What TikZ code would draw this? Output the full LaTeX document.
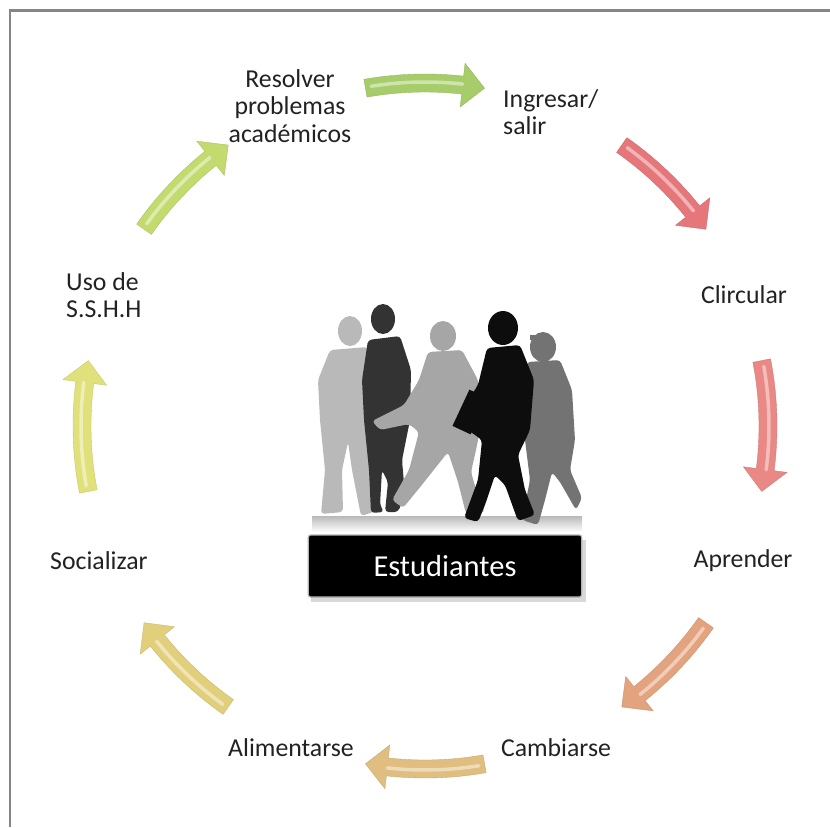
\documentclass[tikz,border=0pt]{standalone}
\usepackage{fontspec}
\setmainfont{Carlito}
\usepackage{tikz}
\usepackage{xcolor}
\definecolor{labeltext}{HTML}{222222}
\definecolor{framegray}{HTML}{858585}
\definecolor{arrA}{RGB}{166,205,106}
\definecolor{arrB}{RGB}{229,118,122}
\definecolor{arrC}{RGB}{233,136,132}
\definecolor{arrD}{RGB}{226,163,126}
\definecolor{arrE}{RGB}{223,190,128}
\definecolor{arrF}{RGB}{226,207,124}
\definecolor{arrG}{RGB}{224,225,122}
\definecolor{arrH}{RGB}{194,218,110}

\tikzset{
  lbl/.style={text=labeltext, font=\fontsize{22}{23.5}\selectfont, inner sep=0pt},
  caption/.style={shape=rectangle, fill=black, draw=gray!60, line width=1pt,
    rounded corners=2pt, minimum width=8.2cm, minimum height=1.86cm,
    text=white, font=\fontsize{26}{28}\selectfont}
}

% curved block arrow on the ring: #1 start angle, #2 tip angle, #3 colour
\newcommand{\ringarrow}[3]{%
  \pgfmathsetmacro{\hb}{#2-3.7}%
  \pgfmathsetmacro{\sa}{#1+1}%
  \fill[#3, draw=#3!88!black, line width=0.3pt]
    ([shift={(ctr)}]#1:352) arc[start angle=#1, end angle=\hb, radius=352]
    -- ([shift={(ctr)}]\hb:365) -- ([shift={(ctr)}]#2:343)
    -- ([shift={(ctr)}]\hb:321) -- ([shift={(ctr)}]\hb:334)
    arc[start angle=\hb, end angle=#1, radius=334] -- cycle;
  \draw[#3!55!white, line width=3pt, line cap=round]
    ([shift={(ctr)}]\sa:344) arc[start angle=\sa, end angle=\hb, radius=344];
}

\begin{document}
\begin{tikzpicture}[x=0.03cm, y=-0.03cm]
        \useasboundingbox (0,0) rectangle (830,827);
        \coordinate (ctr) at (425,426);
        % frame
        \draw[framegray, line width=2.4pt] (10,827) -- (10,10.5) -- (830,10.5);

        % Nodes
        \node[lbl, align=center] (Res) at (290,106) {Resolver\\problemas\\académicos};
        \node[lbl, align=left, anchor=west] (Ing) at (503,112) {Ingresar/\\salir};
        \node[lbl] (Cir) at (744,295) {Clircular};
        \node[lbl] (Apr) at (743,561) {Aprender};
        \node[lbl] (Cam) at (556,748) {Cambiarse};
        \node[lbl] (Ali) at (291,748) {Alimentarse};
        \node[lbl] (Soc) at (99,561) {Socializar};
        \node[lbl, align=left, anchor=west] (Uso) at (66,295) {Uso de\\S.S.H.H};

        % Arrows
        \ringarrow{-100}{-80}{arrA}
        \ringarrow{-55}{-35}{arrB}
        \ringarrow{-11}{11}{arrC}
        \ringarrow{35}{55}{arrD}
        \ringarrow{80}{100}{arrE}
        \ringarrow{125}{145}{arrF}
        \ringarrow{169}{191}{arrG}
        \ringarrow{215}{235}{arrH}

        % walking students
        \shade[top color=gray!55, bottom color=white] (312,516) rectangle (582,532);
        \fill[gray!55, rounded corners=3pt] (330,350) -- (368,347) -- (377,380) -- (375,430)
          -- (371,470) -- (376,511) -- (361,516) -- (352,470) -- (348,442) -- (342,470)
          -- (343,512) -- (321,514) -- (325,470) -- (320,420) -- (318,380) -- cycle;
        \fill[gray!55] (350,331) ellipse[x radius=12, y radius=15];
        \fill[black!80, rounded corners=3pt] (368,340) -- (400,336) -- (411,370) -- (410,420)
          -- (402,460) -- (405,495) -- (398,512) -- (385,512) -- (388,482) -- (382,470)
          -- (380,505) -- (384,512) -- (371,513) -- (369,470) -- (364,420) -- (362,380) -- cycle;
        \fill[black!80] (383,319) ellipse[x radius=12, y radius=15];
        \fill[gray!70, rounded corners=3pt] (428,352) -- (462,350) -- (478,380) -- (482,420)
          -- (476,450) -- (471,472) -- (479,500) -- (485,512) -- (466,514) -- (458,482)
          -- (448,452) -- (421,486) -- (403,508) -- (392,500) -- (409,470) -- (419,432)
          -- (409,424) -- (380,430) -- (372,421) -- (404,405) -- (419,380) -- cycle;
        \fill[gray!70] (443,336) ellipse[x radius=13, y radius=15];
        \fill[black!55, rounded corners=3pt] (527,362) -- (560,360) -- (572,390) -- (575,440)
          -- (570,470) -- (582,498) -- (576,510) -- (560,482) -- (552,472) -- (545,500)
          -- (538,525) -- (522,520) -- (530,480) -- (525,440) -- (522,400) -- cycle;
        \fill[black!55] (543,347) ellipse[x radius=13, y radius=15];
        \fill[black!55] (530,340) rectangle (548,335);
        \fill[black!95, rounded corners=3pt] (487,348) -- (520,345) -- (534,380) -- (530,430)
          -- (518,455) -- (525,490) -- (535,515) -- (518,521) -- (505,485) -- (495,475)
          -- (485,505) -- (478,522) -- (464,518) -- (478,480) -- (482,440) -- (468,430)
          -- (462,410) -- (478,385) -- cycle;
        \fill[black!95] (503,328) ellipse[x radius=15, y radius=17];
        \fill[black!95, rotate around={-25:(470,412)}] (460,392) rectangle (480,432);

        % caption box
        \fill[gray!30] (311,540) rectangle (586,602);
        \node[caption] (Est) at (445,566) {Estudiantes};
    \end{tikzpicture}
\end{document}
